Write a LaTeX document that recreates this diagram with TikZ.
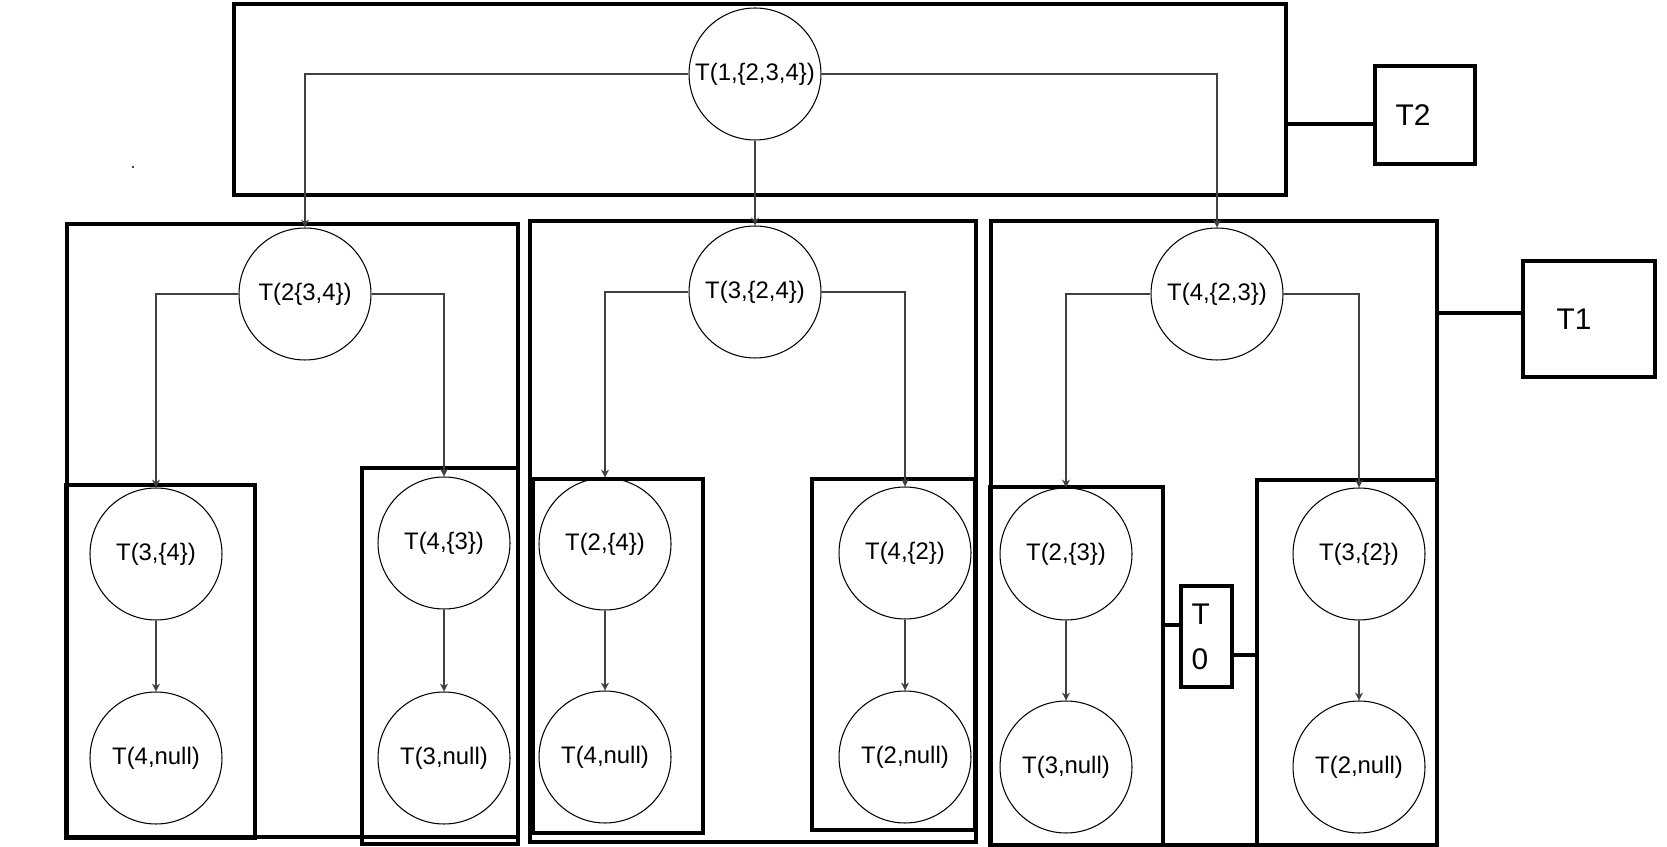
\documentclass[tikz,border=0pt]{standalone}
\usepackage{fontspec}
\setmainfont{Liberation Sans}
\usetikzlibrary{arrows.meta}

\begin{document}
\begin{tikzpicture}[x=0.02cm,y=-0.02cm,
        state/.style={circle,draw,line width=0.6pt,minimum size=2.64cm,inner sep=0pt,font=\fontsize{13.6}{16}\selectfont},
        tag/.style={draw,line width=2.5pt,align=left,font=\fontsize{17}{25.6}\selectfont},
        frame/.style={line width=2.5pt},
        link/.style={line width=2.5pt},
        call/.style={black!75,line width=0.6pt,-{Stealth[length=4.5pt,width=4.5pt]}}]
    \useasboundingbox (0,0) rectangle (1667,847);
    \foreach \name/\xa/\ya/\xb/\yb in {top/234/4/1286/195, grp1/67/224/518/837, grp1a/66/485/255/838,
            grp1b/362/468/518/844, grp2/530/221/976/842, grp2a/533/479/703/833, grp2b/812/479/975/830,
            grp3/991/221/1437/845, grp3a/990/487/1163/845, grp3b/1257/480/1437/845} {
        \draw[frame] (\xa,\ya) coordinate (\name-a) rectangle (\xb,\yb) coordinate (\name-b);
    }
    \fill (133,167) circle (0.6pt);

    \node[state] (root) at (755,74) {T(1,\{2,3,4\})};
    \node[state] (c1) at (305,294) {T(2\{3,4\})};
    \node[state] (c2) at (755,292) {T(3,\{2,4\})};
    \node[state] (c3) at (1217,294) {T(4,\{2,3\})};
    \node[state] (l1) at (156,554) {T(3,\{4\})};
    \node[state] (ll1) at (156,758) {T(4,null)};
    \node[state] (r1) at (444,543) {T(4,\{3\})};
    \node[state] (rr1) at (444,758) {T(3,null)};
    \node[state] (l2) at (605,544) {T(2,\{4\})};
    \node[state] (ll2) at (605,757) {T(4,null)};
    \node[state] (r2) at (905,553) {T(4,\{2\})};
    \node[state] (rr2) at (905,757) {T(2,null)};
    \node[state] (l3) at (1066,554) {T(2,\{3\})};
    \node[state] (ll3) at (1066,767) {T(3,null)};
    \node[state] (r3) at (1359,554) {T(3,\{2\})};
    \node[state] (rr3) at (1359,767) {T(2,null)};

    \node[tag,minimum width=2cm,minimum height=1.96cm,text width=1.18cm] (t2) at (1425,115) {T2};
    \node[tag,minimum width=2.64cm,minimum height=2.32cm,text width=1.3cm] (t1) at (1589,319) {T1};
    \node[tag,minimum width=1.02cm,minimum height=2.02cm,text width=0.6cm] (t0) at (1206.5,636.5) {T\\0};

    \draw[call] (root.west) -| (c1.north);
    \draw[call] (root) -- (c2);
    \draw[call] (root.east) -| (c3.north);
    \foreach \g in {1,2,3} {
        \draw[call] (c\g.west) -| (l\g.north);
        \draw[call] (c\g.east) -| (r\g.north);
        \draw[call] (l\g) -- (ll\g);
        \draw[call] (r\g) -- (rr\g);
    }

    \coordinate (k2) at ([yshift=-0.18cm]t2.west);
    \coordinate (k1) at ([yshift=0.12cm]t1.west);
    \coordinate (k0l) at ([yshift=0.23cm]t0.west);
    \coordinate (k0r) at ([yshift=-0.37cm]t0.east);
    \draw[link] (k2) -- (k2 -| top-b);
    \draw[link] (k1) -- (k1 -| grp3-b);
    \draw[link] (k0l) -- (k0l -| grp3a-b);
    \draw[link] (k0r) -- (k0r -| grp3b-a);
\end{tikzpicture}
\end{document}
